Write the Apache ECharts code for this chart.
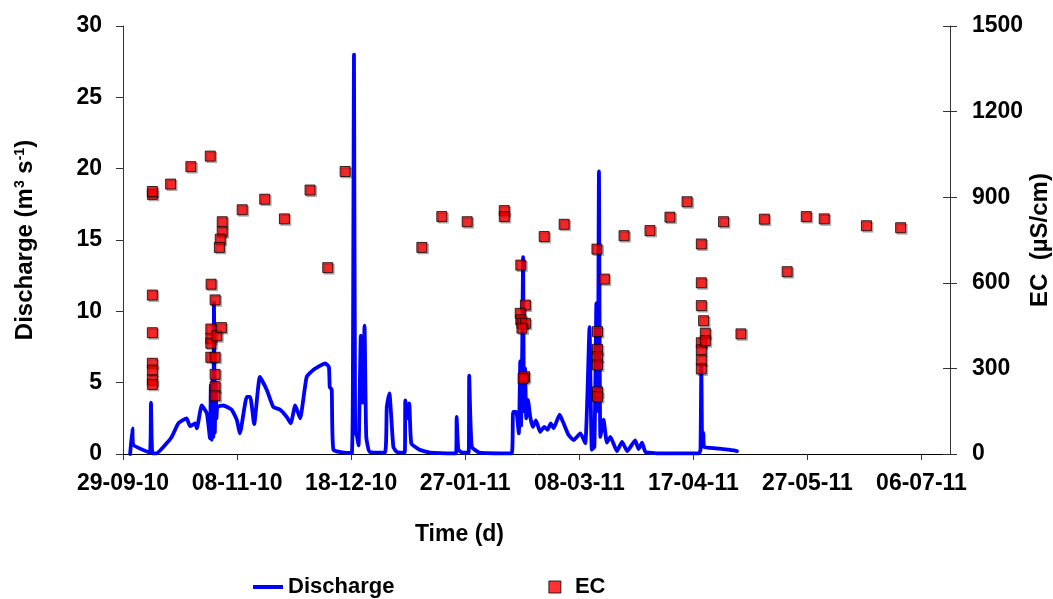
<!DOCTYPE html>
<html>
<head>
<meta charset="utf-8">
<script src="https://cdn.jsdelivr.net/npm/echarts@6/dist/echarts.min.js"></script>
<style>
html,body{margin:0;padding:0;background:#fff;}
#chart{width:1053px;height:599px;}
</style>
</head>
<body>
<div id="chart"></div>
<script>
// x values are days since 29-09-10
var xTickDays = [0, 40, 80, 120, 160, 200, 240, 280];
var leftTicks = [0, 5, 10, 15, 20, 25, 30];
var rightTicks = [0, 300, 600, 900, 1200, 1500];

var dischargeDay = [2.5, 3.3, 3.6, 9.4, 9.8, 10.3, 11.8, 15.3, 17.1, 19.4, 22.3, 23.5, 25.3, 25.9, 27.6, 29.4, 30.5, 30.8, 31.1, 31.4, 31.7, 31.9, 32.2, 32.5, 32.8, 33.1, 35.2, 38.1, 39.9, 41, 43.4, 44.6, 46, 48, 50.4, 52.7, 55.1, 57.4, 58.8, 60.4, 62.1, 64.4, 66.8, 70.9, 72.2, 72.5, 73.2, 73.8, 79.6, 80.3, 80.6, 81, 81.4, 82, 82.6, 83.4, 84, 84.7, 85.3, 86.5, 91.8, 92.5, 93.4, 94.8, 96, 98.8, 99, 99.8, 100.4, 101.1, 104, 107.7, 116.8, 117, 117.6, 119, 121.2, 121.4, 122.3, 125, 136.3, 136.8, 137.9, 138.8, 139.3, 139.6, 140, 140.3, 140.6, 141, 141.4, 142, 142.8, 143.7, 144.8, 146.3, 147.7, 148.9, 150, 151, 153.1, 154.5, 156.2, 158, 160.4, 162.1, 163.6, 164.4, 165.3, 166, 166.5, 166.9, 167.4, 168.5, 169.7, 170.9, 173.2, 175, 176.8, 179.6, 180.8, 182, 183.2, 187.3, 202, 202.5, 202.8, 203.1, 203.5, 203.8, 208, 212.4, 215.3];
var dischargeValue = [0, 1.8, 0.65, 0.1, 3.6, 0.05, 0.05, 0.75, 1.2, 2.15, 2.5, 1.95, 2.15, 1.8, 3.4, 2.85, 1.1, 4.8, 1.0, 5.2, 1.2, 10.6, 1.5, 5.0, 2.5, 3.3, 3.4, 3.1, 2.4, 1.45, 4.0, 4.0, 2.1, 5.4, 4.5, 3.3, 3.1, 2.6, 2.15, 3.4, 2.5, 5.4, 5.9, 6.35, 6.1, 4.7, 4.5, 0.3, 0.07, 0.1, 4.5, 28, 1.5, 1.3, 0.6, 8.3, 3.6, 9.0, 1.2, 0.15, 0.1, 3.3, 4.25, 0.5, 0.15, 0.1, 3.75, 2.5, 3.55, 0.75, 0.3, 0.1, 0.05, 2.6, 0.3, 0.1, 0.1, 5.5, 0.5, 0.1, 0.05, 2.95, 2.95, 1.45, 6.5, 2.0, 7.5, 13.8, 3.0, 6.0, 2.5, 3.8, 2.6, 1.9, 2.35, 1.55, 1.9, 1.7, 2.15, 1.8, 2.75, 2.15, 1.35, 0.98, 1.45, 0.75, 8.9, 0.3, 0.5, 10.55, 3.0, 19.8, 1.2, 2.4, 0.8, 1.2, 0.2, 0.85, 0.2, 0.95, 0.35, 0.8, 0.15, 0.05, 0.05, 0.3, 6.3, 0.5, 1.5, 0.5, 0.4, 0.3, 0.2];

var ecDay = [10.3, 10.3, 10.3, 10.3, 10.3, 10.3, 10.3, 10.3, 16.7, 23.8, 30.6, 30.9, 30.8, 30.8, 30.8, 30.8, 32.3, 32.3, 32.3, 32.3, 32.3, 32.9, 34.5, 34.8, 34.8, 34.1, 33.8, 41.8, 49.7, 56.6, 65.6, 71.8, 77.9, 104.8, 111.8, 120.7, 133.7, 133.7, 139.5, 141.1, 139.3, 139.5, 139.9, 141.1, 139.9, 140.8, 140.3, 147.7, 154.7, 166.2, 166.4, 166.4, 166.4, 166.4, 166.4, 166.4, 168.8, 175.7, 184.8, 191.8, 197.8, 202.8, 202.8, 202.8, 202.8, 202.8, 202.8, 202.8, 203.6, 204.2, 204.2, 210.6, 216.7, 224.9, 232.9, 239.6, 245.9, 260.7, 272.7];
var ecValue = [910, 920, 557, 425, 318, 294, 259, 244, 946, 1007, 1044, 595, 438, 405, 388, 339, 540, 339, 279, 236, 204, 414, 443, 814, 779, 753, 724, 856, 893, 824, 925, 653, 990, 724, 832, 814, 853, 832, 662, 522, 493, 470, 458, 458, 441, 271, 265, 762, 805, 718, 429, 367, 341, 312, 218, 201, 613, 765, 783, 830, 884, 736, 600, 520, 390, 365, 329, 298, 467, 423, 397, 814, 421, 823, 639, 832, 824, 800, 793];

var START = Date.UTC(2010, 8, 29);
function fmtDay(d) {
  var dt = new Date(START + d * 86400000);
  var p = function (n) { return (n < 10 ? '0' : '') + n; };
  return p(dt.getUTCDate()) + '-' + p(dt.getUTCMonth() + 1) + '-' + p(dt.getUTCFullYear() % 100);
}

var dischargeData = dischargeDay.map(function (d, i) { return [d, dischargeValue[i]]; });
var ecData = ecDay.map(function (d, i) { return [d, ecValue[i]]; });

var FONT = 'Liberation Sans, Arial, sans-serif';
var AX = '#333';

var chart = echarts.init(document.getElementById('chart'), null, {renderer: 'canvas'});
chart.setOption({
  animation: false,
  backgroundColor: '#fff',
  textStyle: {fontFamily: FONT},
  grid: {left: 123, right: 103, top: 26, bottom: 145, containLabel: false, outerBoundsMode: 'none'},
  legend: {
    left: 253, top: 576, padding: 0,
    itemWidth: 30, itemHeight: 12, itemGap: 154,
    textStyle: {fontFamily: FONT, fontWeight: 'bold', fontSize: 22, color: '#000'},
    data: [
      {name: 'Discharge', icon: 'path://M0,0 L30,0 L30,4 L0,4 Z', itemStyle: {color: '#0000FF'}},
      {name: 'EC', icon: 'path://M0,0 L10,0 L10,10 L0,10 Z',
        itemStyle: {color: '#FF0000', borderColor: '#000', borderWidth: 1, shadowColor: 'rgba(0,0,0,0)'}}
    ]
  },
  xAxis: {
    type: 'value', min: 0, max: 290, interval: 40,
    name: 'Time (d)', nameLocation: 'middle', nameGap: 69, nameMoveOverlap: false,
    nameTextStyle: {fontFamily: FONT, fontWeight: 'bold', fontSize: 23, color: '#000', padding: [0, 154, 0, 0]},
    axisLine: {show: true, onZero: false, lineStyle: {color: '#000', width: 1}},
    axisTick: {show: true, inside: false, length: 6, lineStyle: {color: AX}, customValues: xTickDays},
    axisLabel: {margin: 18, fontFamily: FONT, fontWeight: 'bold', fontSize: 23, color: '#000',
      customValues: xTickDays, formatter: function (v) { return fmtDay(v); }},
    splitLine: {show: false}
  },
  yAxis: [
    {
      type: 'value', min: 0, max: 30, interval: 5, position: 'left',
      name: 'Discharge (m{sup|3} s{sup|-1})', nameLocation: 'middle', nameGap: 86, nameRotate: 90, nameMoveOverlap: false,
      nameTextStyle: {fontFamily: FONT, fontWeight: 'bold', fontSize: 24, color: '#000',
        rich: {sup: {fontFamily: FONT, fontWeight: 'bold', fontSize: 14, color: '#000', verticalAlign: 'top', lineHeight: 24}}},
      axisLine: {show: true, lineStyle: {color: AX, width: 1}},
      axisTick: {show: true, inside: false, length: 7, lineStyle: {color: AX}},
      axisLabel: {margin: 21, fontFamily: FONT, fontWeight: 'bold', fontSize: 23, color: '#000',
        padding: [6, 0, 0, 0],
        customValues: leftTicks, formatter: function (v) { return String(v); }},
      splitLine: {show: false}
    },
    {
      type: 'value', min: 0, max: 1500, interval: 300, position: 'right',
      name: 'EC  (µS/cm)', nameLocation: 'middle', nameGap: 78, nameRotate: 90, nameMoveOverlap: false,
      nameTextStyle: {fontFamily: FONT, fontWeight: 'bold', fontSize: 24, color: '#000'},
      axisLine: {show: true, lineStyle: {color: AX, width: 1}},
      axisTick: {show: true, inside: false, length: 7, lineStyle: {color: AX}},
      axisLabel: {margin: 22, fontFamily: FONT, fontWeight: 'bold', fontSize: 23, color: '#000',
        padding: [6, 0, 0, 0],
        customValues: rightTicks, formatter: function (v) { return String(v); }},
      splitLine: {show: false}
    },
    {
      type: 'value', min: 0, max: 1500, interval: 300, position: 'right',
      axisLine: {show: false},
      axisTick: {show: true, inside: true, length: 7, lineStyle: {color: AX}},
      axisLabel: {show: false},
      splitLine: {show: false}
    }
  ],
  series: [
    {
      name: 'Discharge', type: 'line', yAxisIndex: 0, data: dischargeData,
      showSymbol: false, symbol: 'none', smooth: 0.15,
      lineStyle: {color: '#0000FF', width: 3.8, join: 'round', cap: 'round'},
      itemStyle: {color: '#0000FF'},
      z: 2
    },
    {
      name: 'EC', type: 'scatter', yAxisIndex: 1, data: ecData,
      symbol: 'rect', symbolSize: 10,
      itemStyle: {color: '#FF0000', borderColor: '#000', borderWidth: 1,
        shadowColor: 'rgba(0,0,0,0.3)', shadowOffsetX: 1.5, shadowOffsetY: 1.5, shadowBlur: 0},
      z: 3
    }
  ]
});
</script>
</body>
</html>
